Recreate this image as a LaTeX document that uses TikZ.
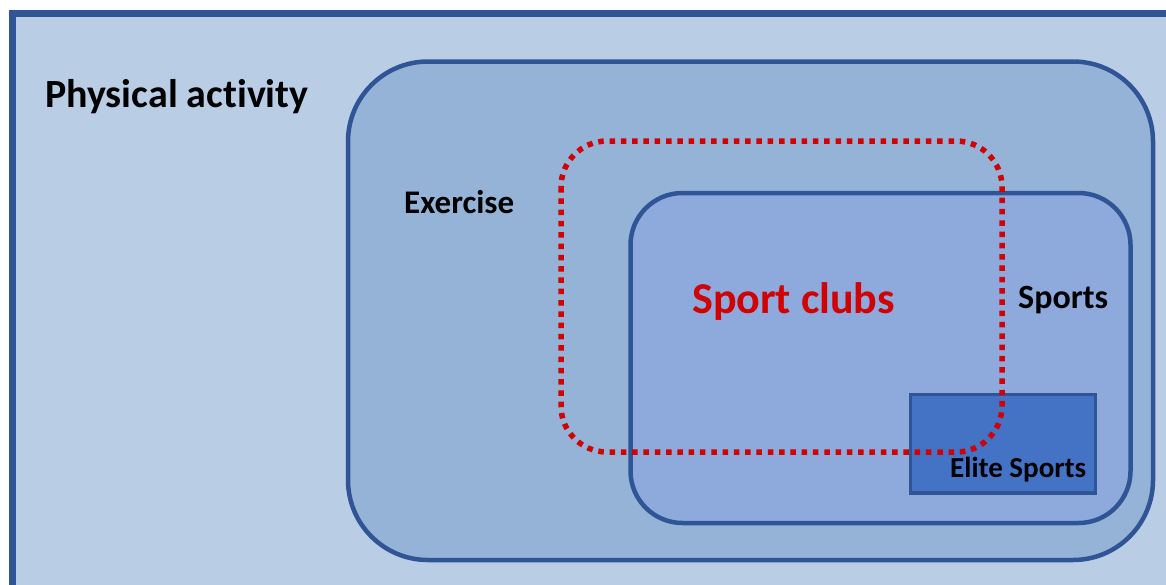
\documentclass[tikz,border=0pt]{standalone}
\usepackage{fontspec}
\setmainfont{Carlito}[Ligatures=NoCommon]
\definecolor{frameblue}{HTML}{2F5597}
\definecolor{paFill}{HTML}{B9CDE5}
\definecolor{exFill}{HTML}{95B3D7}
\definecolor{spFill}{HTML}{8EAADC}
\definecolor{elFill}{HTML}{4472C4}
\definecolor{clubred}{HTML}{D00000}
\tikzset{
  areabox/.style={draw=frameblue, line width=4.5pt},
  label/.style={inner sep=0pt, anchor=base west, font=\bfseries},
}
\newcommand{\fsz}[1]{\fontsize{#1}{#1}\selectfont}
\begin{document}
\begin{tikzpicture}[x=1pt,y=-1pt]
  \useasboundingbox (0,0) rectangle (1166,584);
  \clip (0,0) rectangle (1166,584);
  % physical activity frame (runs past the right and bottom edges)
  \draw[draw=frameblue, fill=paFill, line width=7pt] (12.5,13.5) rectangle (1190,610);
  % exercise
  \draw[areabox, fill=exFill, rounded corners=80pt] (348,61.5) rectangle (1153,560);
  % sports
  \draw[areabox, fill=spFill, rounded corners=52pt] (630.5,193) rectangle (1130.5,523);
  % elite sports
  \draw[draw=frameblue, fill=elFill, line width=3.5pt] (910.5,394.5) rectangle (1095.5,493);
  % sport clubs (dotted outline)
  \draw[draw=clubred, line width=5.5pt, dash pattern=on 5.5pt off 5.8pt, rounded corners=46pt]
    (561,141) rectangle (1002,452);
  % labels
  \node[label, font=\bfseries\fsz{40}] (pa) at (45,107) {Physical activity};
  \node[label, font=\bfseries\fsz{33}] (ex) at (404,213) {Exercise};
  \node[label, font=\bfseries\fsz{44}, text=clubred] (sc) at (692,313) {Sport clubs};
  \node[label, font=\bfseries\fsz{34}] (sp) at (1018,308) {Sports};
  \node[label, font=\bfseries\fsz{29}] (el) at (950,477) {Elite Sports};
\end{tikzpicture}
\end{document}
